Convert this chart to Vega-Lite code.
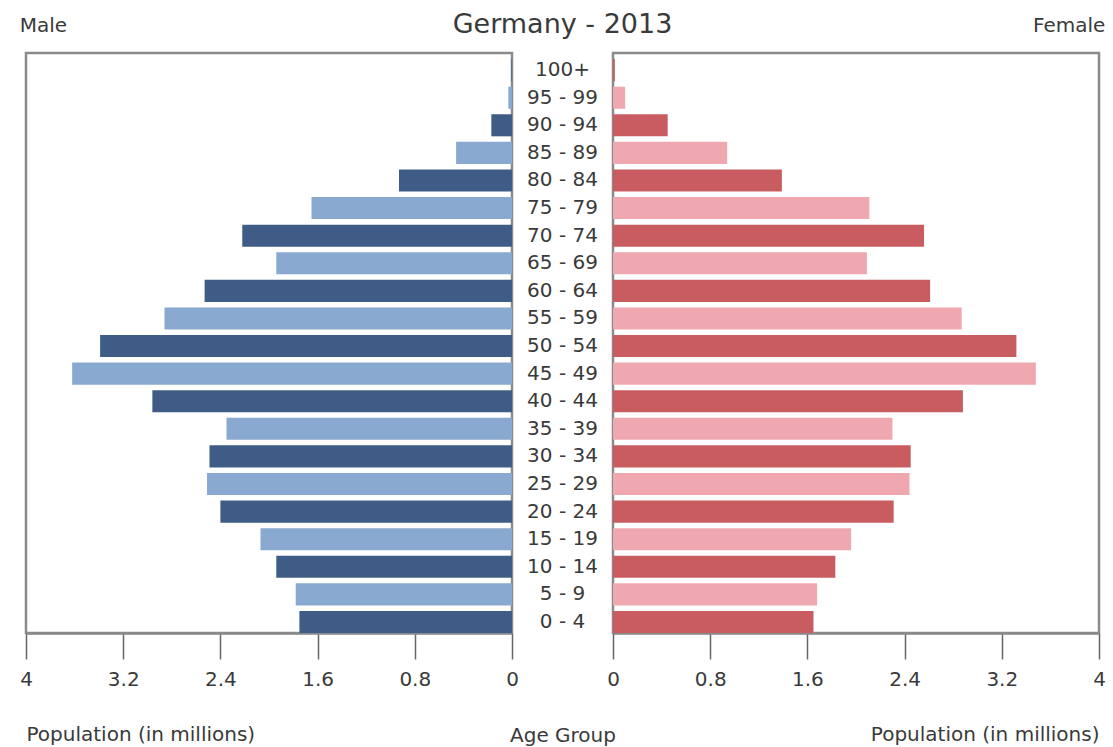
{
  "$schema": "https://vega.github.io/schema/vega-lite/v6.json",
  "background": "white",
  "padding": {"left": 18, "top": 11, "right": 10, "bottom": 5},
  "autosize": {"type": "pad"},
  "bounds": "flush",
  "spacing": 0,
  "data": {
    "values": [
      {"age": "100+", "male": 0.005, "female": 0.015},
      {"age": "95 - 99", "male": 0.03, "female": 0.1},
      {"age": "90 - 94", "male": 0.17, "female": 0.45},
      {"age": "85 - 89", "male": 0.46, "female": 0.94},
      {"age": "80 - 84", "male": 0.93, "female": 1.39},
      {"age": "75 - 79", "male": 1.65, "female": 2.11},
      {"age": "70 - 74", "male": 2.22, "female": 2.56},
      {"age": "65 - 69", "male": 1.94, "female": 2.09},
      {"age": "60 - 64", "male": 2.53, "female": 2.61},
      {"age": "55 - 59", "male": 2.86, "female": 2.87},
      {"age": "50 - 54", "male": 3.39, "female": 3.32},
      {"age": "45 - 49", "male": 3.62, "female": 3.48},
      {"age": "40 - 44", "male": 2.96, "female": 2.88},
      {"age": "35 - 39", "male": 2.35, "female": 2.3},
      {"age": "30 - 34", "male": 2.49, "female": 2.45},
      {"age": "25 - 29", "male": 2.51, "female": 2.44},
      {"age": "20 - 24", "male": 2.4, "female": 2.31},
      {"age": "15 - 19", "male": 2.07, "female": 1.96},
      {"age": "10 - 14", "male": 1.94, "female": 1.83},
      {"age": "5 - 9", "male": 1.78, "female": 1.68},
      {"age": "0 - 4", "male": 1.75, "female": 1.65}
    ]
  },
  "config": {
    "font": "DejaVu Sans",
    "view": {"stroke": "#8a8a8a", "strokeWidth": 2.5},
    "title": {"color": "#3a3a3a", "fontWeight": "normal"},
    "axis": {
      "domainColor": "#8a8a8a",
      "domainWidth": 2.5,
      "tickColor": "#666666",
      "tickWidth": 1.5,
      "tickSize": 26,
      "labelFontSize": 20,
      "labelColor": "#3a3a3a",
      "labelPadding": 10,
      "labelFlush": false,
      "titleFontSize": 20,
      "titleFontWeight": "normal",
      "titleColor": "#3a3a3a",
      "titlePadding": 35,
      "grid": false
    }
  },
  "hconcat": [
    {
      "width": 486,
      "height": 580,
      "title": {"text": "Male", "anchor": "start", "fontSize": 20, "offset": 17},
      "mark": {"type": "bar"},
      "encoding": {
        "y": {"field": "age", "type": "nominal", "sort": null, "axis": null, "scale": {"type": "band", "paddingInner": 0.2, "paddingOuter": 0.11, "align": 1}},
        "x": {
          "field": "male", "type": "quantitative",
          "scale": {"domain": [0, 4], "reverse": true, "nice": false},
          "axis": {"values": [0, 0.8, 1.6, 2.4, 3.2, 4], "title": "Population (in millions)", "titleAnchor": "end", "titleAlign": "left", "format": "~g"}
        },
        "color": {
          "field": "age", "type": "nominal", "legend": null,
          "scale": {
            "domain": ["100+", "95 - 99", "90 - 94", "85 - 89", "80 - 84", "75 - 79", "70 - 74", "65 - 69", "60 - 64", "55 - 59", "50 - 54", "45 - 49", "40 - 44", "35 - 39", "30 - 34", "25 - 29", "20 - 24", "15 - 19", "10 - 14", "5 - 9", "0 - 4"],
            "range": ["#3e5c86", "#89a9d1", "#3e5c86", "#89a9d1", "#3e5c86", "#89a9d1", "#3e5c86", "#89a9d1", "#3e5c86", "#89a9d1", "#3e5c86", "#89a9d1", "#3e5c86", "#89a9d1", "#3e5c86", "#89a9d1", "#3e5c86", "#89a9d1", "#3e5c86", "#89a9d1", "#3e5c86"]
          }
        }
      }
    },
    {
      "width": 101,
      "height": 580,
      "view": {"stroke": null},
      "title": {"text": "Germany - 2013", "anchor": "middle", "fontSize": 27, "offset": 14},
      "mark": {"type": "text", "fontSize": 20, "color": "#3a3a3a", "align": "center", "baseline": "middle"},
      "encoding": {
        "y": {"field": "age", "type": "nominal", "sort": null, "axis": null, "scale": {"type": "band", "paddingInner": 0.2, "paddingOuter": 0.11, "align": 1}},
        "x": {
          "datum": 0, "type": "quantitative",
          "scale": {"domain": [-1, 1]},
          "axis": {"title": "Age Group", "labels": false, "ticks": false, "domain": false, "values": [], "titlePadding": 92}
        },
        "text": {"field": "age"}
      }
    },
    {
      "width": 486,
      "height": 580,
      "title": {"text": "Female", "anchor": "end", "fontSize": 20, "offset": 17},
      "mark": {"type": "bar"},
      "encoding": {
        "y": {"field": "age", "type": "nominal", "sort": null, "axis": null, "scale": {"type": "band", "paddingInner": 0.2, "paddingOuter": 0.11, "align": 1}},
        "x": {
          "field": "female", "type": "quantitative",
          "scale": {"domain": [0, 4], "nice": false},
          "axis": {"values": [0, 0.8, 1.6, 2.4, 3.2, 4], "title": "Population (in millions)", "titleAnchor": "end", "format": "~g"}
        },
        "color": {
          "field": "age", "type": "nominal", "legend": null,
          "scale": {
            "domain": ["100+", "95 - 99", "90 - 94", "85 - 89", "80 - 84", "75 - 79", "70 - 74", "65 - 69", "60 - 64", "55 - 59", "50 - 54", "45 - 49", "40 - 44", "35 - 39", "30 - 34", "25 - 29", "20 - 24", "15 - 19", "10 - 14", "5 - 9", "0 - 4"],
            "range": ["#c95c60", "#f0a8b0", "#c95c60", "#f0a8b0", "#c95c60", "#f0a8b0", "#c95c60", "#f0a8b0", "#c95c60", "#f0a8b0", "#c95c60", "#f0a8b0", "#c95c60", "#f0a8b0", "#c95c60", "#f0a8b0", "#c95c60", "#f0a8b0", "#c95c60", "#f0a8b0", "#c95c60"]
          }
        }
      }
    }
  ],
  "resolve": {"scale": {"color": "independent", "x": "independent"}}
}
